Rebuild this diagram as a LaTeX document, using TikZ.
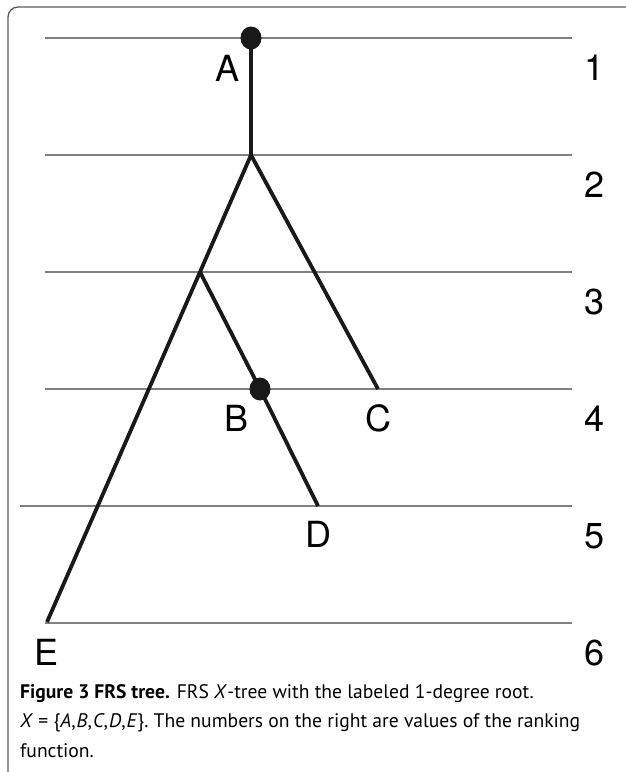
\documentclass[tikz,border=0pt]{standalone}
\usepackage{fontspec}
\setmainfont{TeX Gyre Heros}
\newfontfamily\capfont{PT Sans}
\usetikzlibrary{positioning,shapes.geometric}
\tikzstyle{level} = [draw=black!50, line width=1.3pt]
\tikzstyle{branch} = [draw=black!90, line width=3.8pt, line join=round]
\tikzstyle{vertex} = [ellipse, fill=black!90, inner sep=0pt, minimum width=21pt, minimum height=23pt]
\tikzstyle{label} = [font=\fontsize{36}{36}\selectfont, inner sep=0pt]
\tikzstyle{rank} = [font=\fontsize{36}{36}\selectfont, inner sep=0pt]
\tikzstyle{frame} = [draw=black!65, line width=1.3pt, rounded corners=10pt]

\begin{document}
\begin{tikzpicture}[x=1pt, y=-1pt]
  \useasboundingbox (0,0) rectangle (625,772);
  \draw[frame] (8,7) rectangle (680,800);
  % ranking levels
  \foreach \y/\r/\x in {38/1/45, 155/2/45, 272/3/45, 389/4/45, 506/5/20, 623/6/45}{
    \coordinate (l\r) at (\x,\y);
    \coordinate (r\r) at (572,\y);
    \draw[level] (l\r) -- (r\r);
    \node[rank] (n\r) at (595,\y+30) {\r};
  }
  % tree
  \coordinate (a) at (251,38);
  \coordinate (root) at (251,155);
  \coordinate (split) at (200,272);
  \coordinate (b) at (260,389);
  \coordinate (c) at (378,389);
  \coordinate (d) at (318,506);
  \coordinate (e) at (47,622);
  \draw[branch] (a) -- (root) -- (c);
  \draw[branch] (root) -- (split) -- (e);
  \draw[branch] (split) -- (b) -- (d);
  \node[vertex] (dotA) at (a) {};
  \node[vertex] (dotB) at (b) {};
  \node[label] (la) at (228,68) {A};
  \node[label] (lb) at (237,418) {B};
  \node[label] (lc) at (378,418) {C};
  \node[label] (ld) at (318,534) {D};
  \node[label] (le) at (47,652) {E};
  % caption
  \node[anchor=north west, align=left, inner sep=0pt,
        font=\capfont\fontsize{19.6}{29.5}\selectfont] (caption) at (20,684)
    {\textbf{Figure 3 FRS tree.} FRS \textit{X}-tree with the labeled 1-degree root.\\
     \textit{X} = \{\textit{A},\kern1pt\textit{B},\kern1pt\textit{C},\kern1pt\textit{D},\kern1pt\textit{E}\}. The numbers on the right are values of the ranking\\
     function.};
\end{tikzpicture}
\end{document}
